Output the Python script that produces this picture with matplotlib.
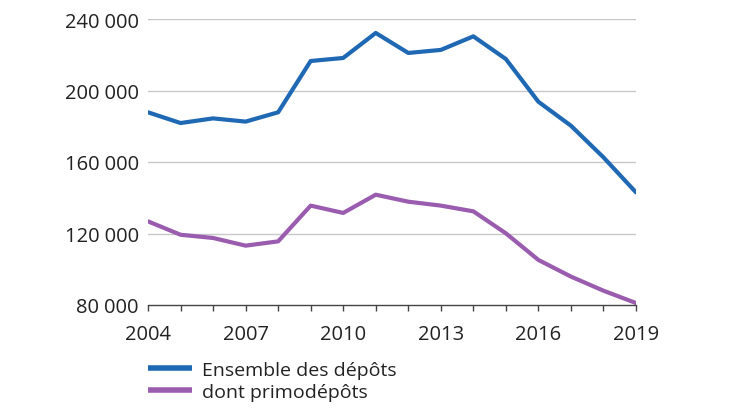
import matplotlib
matplotlib.use("Agg")
import matplotlib.pyplot as plt
from matplotlib.ticker import FuncFormatter

years = list(range(2004, 2020))
ensemble = [187800, 181800, 184400, 182600, 187800, 216500, 218200, 232200,
            221000, 222700, 230300, 217600, 193700, 180300, 162600, 143000]
primo = [126800, 119300, 117500, 113200, 115600, 135600, 131500, 141700,
         137800, 135600, 132400, 120100, 105200, 95900, 88000, 81100]
labels = ["Ensemble des dépôts", "dont primodépôts"]
yticks = [80000, 120000, 160000, 200000, 240000]
xlabels = [2004, 2007, 2010, 2013, 2016, 2019]

plt.rcParams['font.family'] = ['Open Sans', 'DejaVu Sans']

fig = plt.figure(figsize=(7.3, 4.1), dpi=100)
ax = fig.add_axes([148/730, 1-306/410, (636-148)/730, (306-20)/410])

c_blue = "#1f69b4"
c_purple = "#9a5cae"
ax.plot(years, ensemble, color=c_blue, lw=3.0, label=labels[0], solid_capstyle='round', solid_joinstyle='round')
ax.plot(years, primo, color=c_purple, lw=3.0, label=labels[1], solid_capstyle='round', solid_joinstyle='round')

ax.set_xlim(2004, 2019)
ax.set_ylim(80000, 240000)
ax.set_yticks(yticks)
ax.yaxis.set_major_formatter(FuncFormatter(lambda v, p: f"{int(v):,}".replace(",", "\u2005")))
ax.set_xticks(years)
ax.set_xticklabels([str(y) if y in xlabels else "" for y in years])

for y in yticks[1:]:
    ax.axhline(y, color="#c8c8c8", lw=1.0, zorder=0)

for s in ["top", "right", "left"]:
    ax.spines[s].set_visible(False)
ax.spines["bottom"].set_color("#444444")
ax.spines["bottom"].set_linewidth(1.0)
ax.tick_params(axis='x', direction='out', length=4, width=1, color="#444444",
               labelsize=14.5, labelcolor="#222222", pad=10)
ax.tick_params(axis='y', length=0, labelsize=14.5, labelcolor="#222222", pad=6.5)

leg = fig.legend(loc='upper left', bbox_to_anchor=(148/730, 1-362/410), frameon=False,
                 borderpad=0, borderaxespad=0, handlelength=2.25, handletextpad=0.55,
                 labelspacing=0.2, fontsize=14)
for t in leg.get_texts():
    t.set_color("#222222")
for h in leg.legend_handles:
    h.set_linewidth(4.0)
    h.set_solid_capstyle('butt')

fig.savefig("out.png", dpi=100)
